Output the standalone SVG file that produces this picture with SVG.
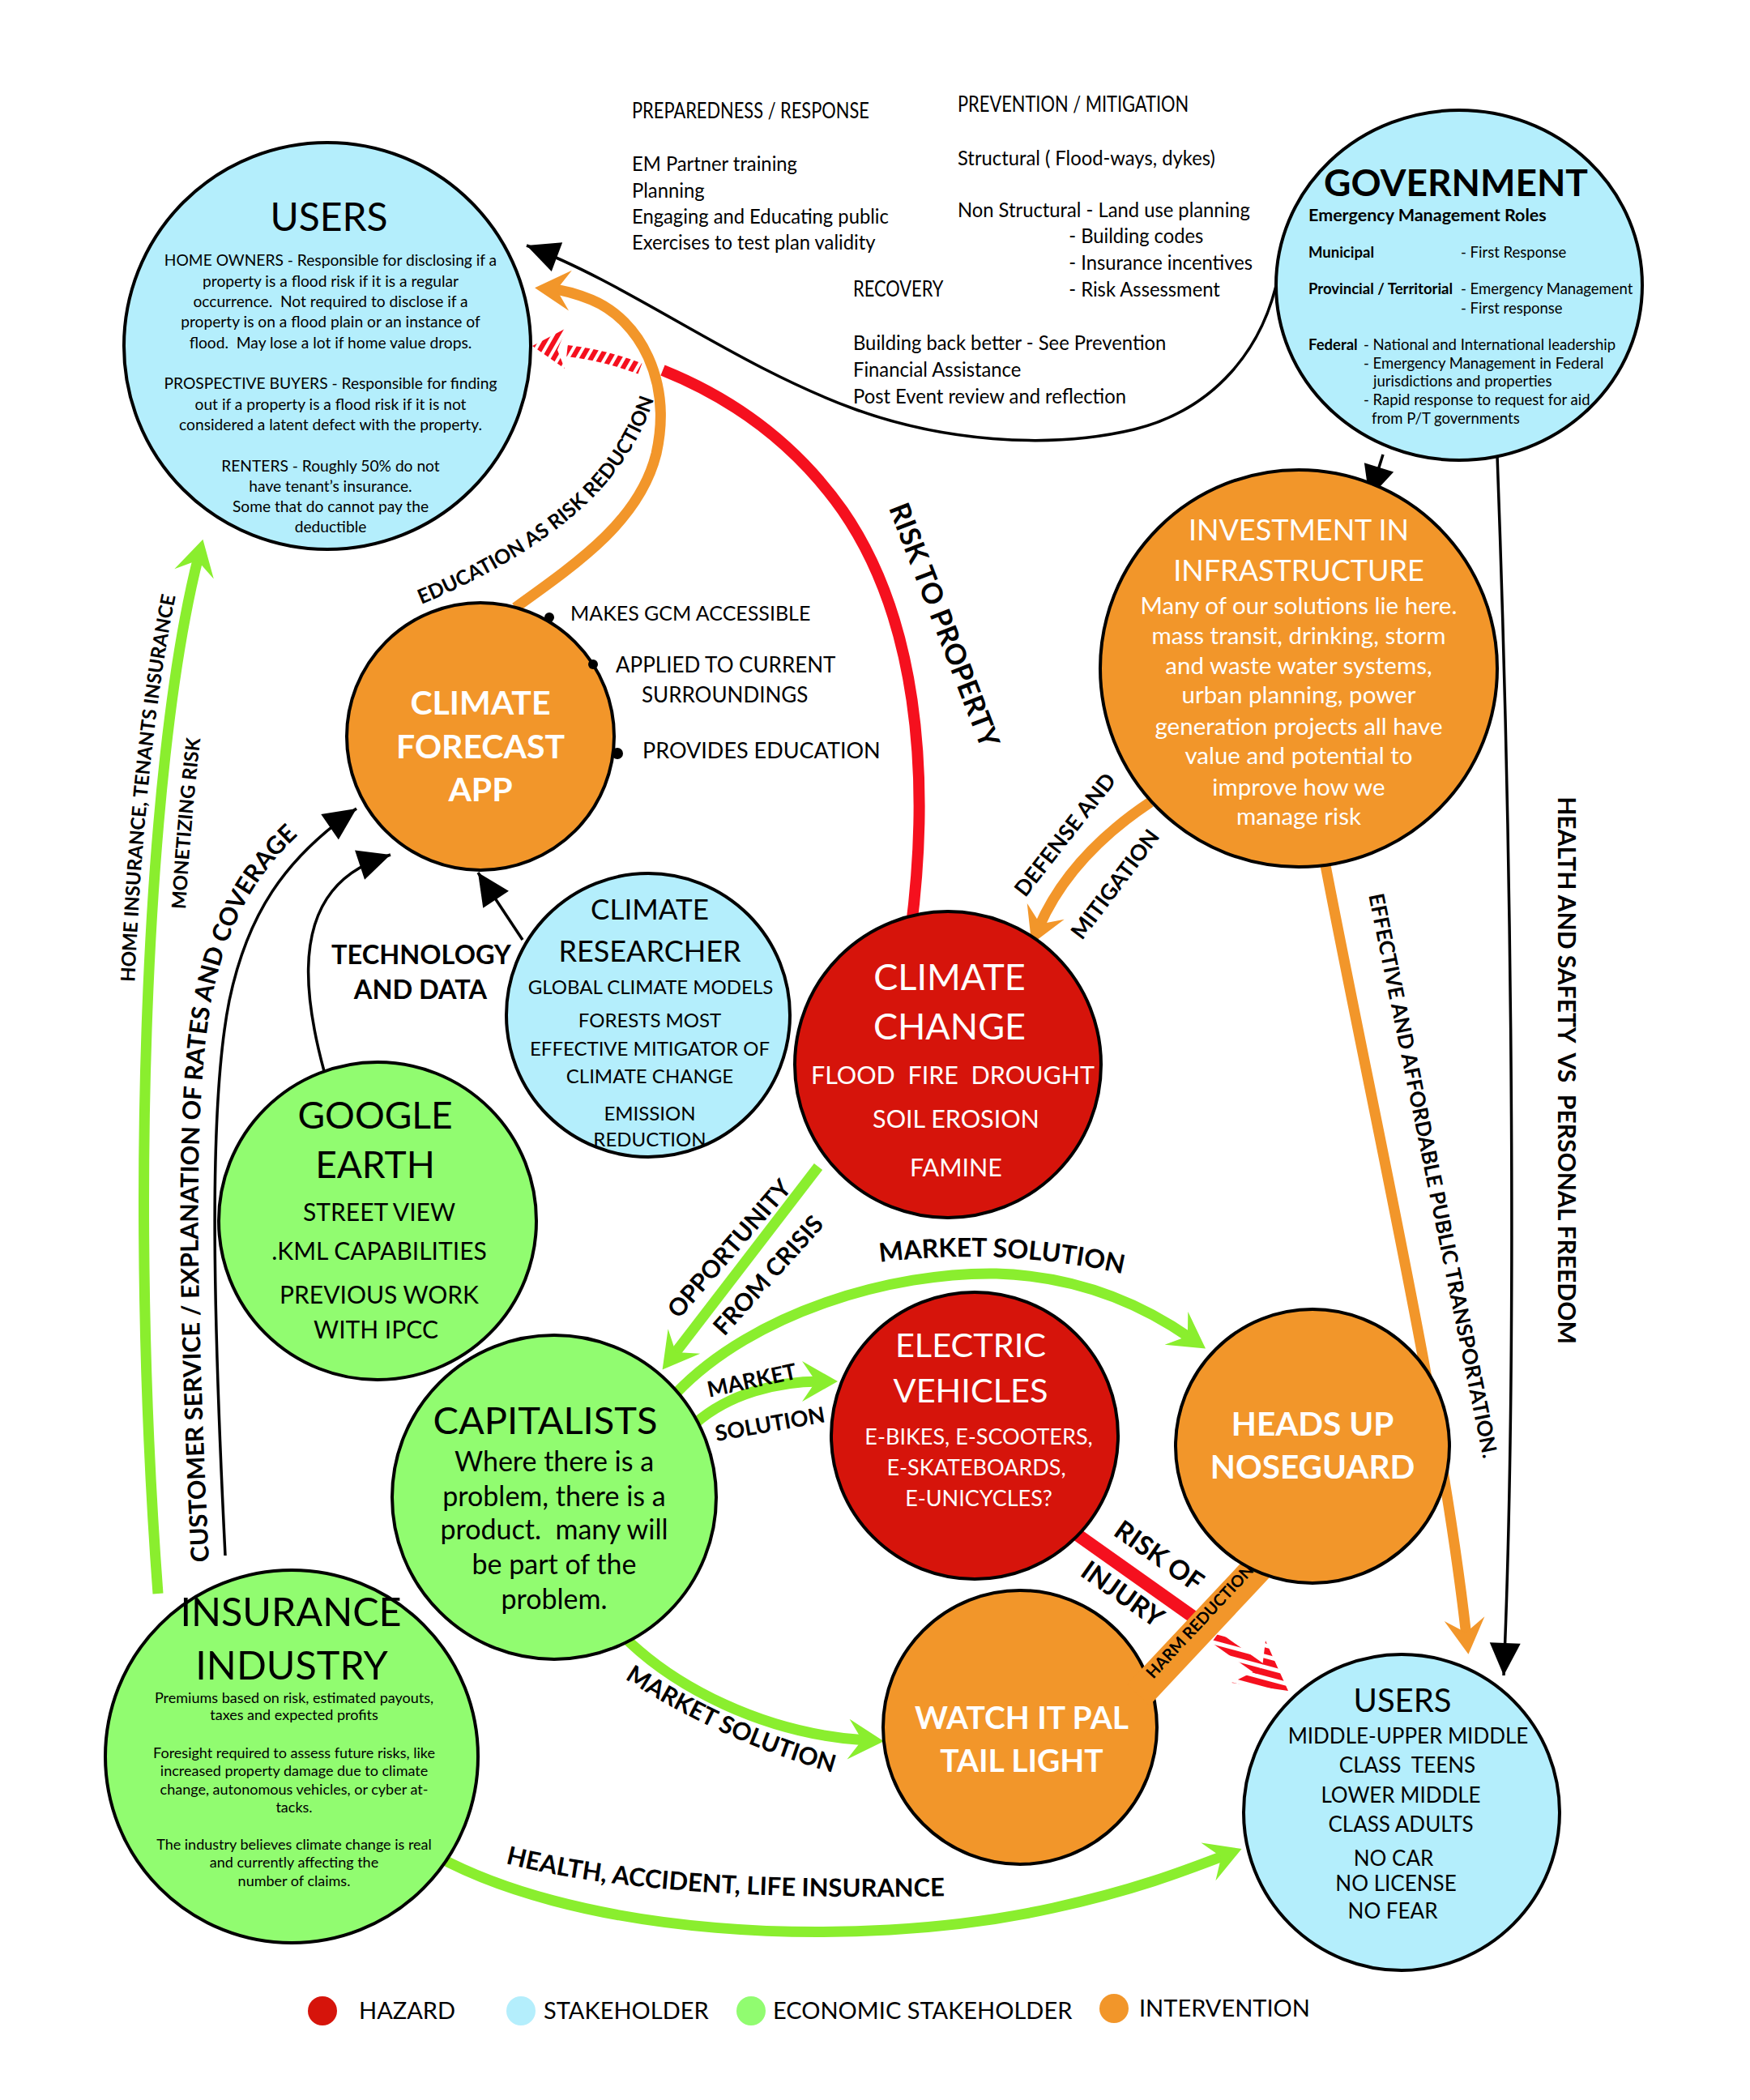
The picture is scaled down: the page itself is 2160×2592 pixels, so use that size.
<svg xmlns="http://www.w3.org/2000/svg" width="2160" height="2592" viewBox="0 0 2160 2592">
<style>
text{font-family:Lato,"Open Sans","Liberation Sans",sans-serif;fill:#000}
.b{font-weight:bold}
.w{fill:#fff}
.m{text-anchor:middle}
.nb{fill:#B4EEFC;stroke:#000;stroke-width:4}
.ng{fill:#91FC70;stroke:#000;stroke-width:4}
.no{fill:#F2962A;stroke:#000;stroke-width:4}
.nr{fill:#D6140B;stroke:#000;stroke-width:4}
.kl{fill:none;stroke:#000;stroke-width:3.5}
.gl{fill:none;stroke:#8AEE2E;stroke-width:13}
.ol{fill:none;stroke:#F2962A;stroke-width:13}
.rl{fill:none;stroke:#F5101E;stroke-width:14}
.cond{font-size:26px}
.lbl{font-weight:bold;font-size:26px}
</style>
<defs>
<marker id="ak" markerUnits="userSpaceOnUse" markerWidth="50" markerHeight="50" viewBox="-45 -25 50 50" refX="0" refY="0" orient="auto"><path d="M0,0 L-40,-19 L-40,19 Z" fill="#000"/></marker>
<marker id="ao" markerUnits="userSpaceOnUse" markerWidth="60" markerHeight="60" viewBox="-30 -30 60 60" refX="0" refY="0" orient="auto"><path d="M22,0 L-22,25 L-5,0 L-22,-25 Z" fill="#F2962A"/></marker>
<marker id="ag" markerUnits="userSpaceOnUse" markerWidth="60" markerHeight="60" viewBox="-30 -30 60 60" refX="0" refY="0" orient="auto"><path d="M22,0 L-22,25 L-5,0 L-22,-25 Z" fill="#8AEE2E"/></marker>
<pattern id="hatchA" patternUnits="userSpaceOnUse" width="10" height="10" patternTransform="rotate(30)"><rect width="6" height="10" fill="#F5101E"/></pattern>
<pattern id="hatchB" patternUnits="userSpaceOnUse" width="13" height="13" patternTransform="rotate(105)"><rect width="8" height="13" fill="#F5101E"/></pattern>
<path id="pEdu" d="M520 746 C612 708 700 655 752 592 C782 555 800 520 812 476"/>
<path id="pCust" d="M258 1928 C242 1600 237 1360 262 1230 C285 1120 332 1048 428 984"/>
<path id="pHome" d="M178 1967 C143 1500 161 950 228 687"/>
<path id="pMon" d="M236 1967 C201 1500 219 950 286 687"/>
<path id="pHealth" d="M624 2300 C760 2335 950 2345 1180 2340"/>
<path id="pMs1" d="M1086 1558 Q1245 1538 1402 1576"/>
<path id="pMs2" d="M771 2072 Q895 2152 1036 2190"/>
</defs>

<g id="connectors">
  <!-- government to users (top) -->
  <path class="kl" d="M1578 339 C1560 430 1500 505 1400 530 C1290 556 1160 543 1055 505 C905 450 780 352 650 303" marker-end="url(#ak)"/>
  <!-- government to investment -->
  <path class="kl" d="M1707 561 L1690 615" marker-end="url(#ak)"/>
  <!-- government to users (bottom right) -->
  <path class="kl" d="M1848 562 C1868 1100 1872 1700 1856 2068" marker-end="url(#ak)"/>
  <text class="lbl" transform="translate(1923 1321) rotate(90)" text-anchor="middle" xml:space="preserve" style="font-size:30px">HEALTH AND SAFETY  VS  PERSONAL FREEDOM</text>
  <!-- investment to users: public transportation -->
  <path class="ol" d="M1636 1068 C1700 1400 1780 1750 1810 2020" marker-end="url(#ao)"/>
  <text class="lbl" transform="translate(1760 1453) rotate(78.5)" text-anchor="middle" style="font-size:26px">EFFECTIVE AND AFFORDABLE PUBLIC TRANSPORTATION.</text>
  <!-- defense and mitigation -->
  <path class="ol" d="M1420 990 C1360 1030 1310 1080 1282 1145" marker-end="url(#ao)"/>
  <text class="lbl" transform="translate(1322 1036) rotate(-52)" text-anchor="middle" style="font-size:27px">DEFENSE AND</text>
  <text class="lbl" transform="translate(1384 1097) rotate(-53)" text-anchor="middle" style="font-size:27px">MITIGATION</text>
  <!-- education as risk reduction -->
  <path class="ol" d="M636 750 C720 690 790 640 810 560 C830 470 790 395 730 370 C710 362 695 358 682 357" marker-end="url(#ao)"/>
  <text class="b" style="font-size:25px"><textPath href="#pEdu">EDUCATION AS RISK REDUCTION</textPath></text>
  <!-- risk to property -->
  <path class="rl" d="M1124 1150 C1150 950 1130 760 1040 630 C980 545 900 490 818 457"/>
  <path d="M790 455 Q745 438 700 433" fill="none" stroke="url(#hatchA)" stroke-width="14"/>
  <path d="M657 427 L699 405 L688 432 L697 455 Z" fill="url(#hatchA)"/>
  <text class="lbl" transform="translate(1154 776) rotate(69)" text-anchor="middle" style="font-size:35px">RISK TO PROPERTY</text>
  <!-- customer service -->
  <path class="kl" d="M278 1920 C262 1600 258 1360 283 1235 C305 1130 350 1060 440 998" marker-end="url(#ak)"/>
  <text class="lbl" style="font-size:30.5px"><textPath href="#pCust">CUSTOMER SERVICE / EXPLANATION OF RATES AND COVERAGE</textPath></text>
  <!-- google earth to app -->
  <path class="kl" d="M400 1322 C375 1230 370 1150 410 1100 C430 1075 455 1064 482 1055" marker-end="url(#ak)"/>
  <!-- researcher to app -->
  <path class="kl" d="M645 1160 L590 1077" marker-end="url(#ak)"/>
  <text class="b m" x="520" y="1190" style="font-size:32.5px">TECHNOLOGY</text>
  <text class="b m" x="519" y="1233" style="font-size:32.5px">AND DATA</text>
  <!-- home insurance -->
  <path class="gl" d="M195 1967 C160 1500 178 950 245 687" marker-end="url(#ag)"/>
  <text class="b" style="font-size:24px"><textPath href="#pHome" startOffset="755">HOME INSURANCE, TENANTS INSURANCE</textPath></text>
  <text class="b" style="font-size:24px"><textPath href="#pMon" startOffset="845">MONETIZING RISK</textPath></text>
  <!-- health accident life -->
  <path class="gl" d="M520 2280 C700 2390 1050 2410 1300 2355 C1400 2333 1460 2310 1512 2290" marker-end="url(#ag)"/>
  <text class="lbl" style="font-size:31px"><textPath href="#pHealth">HEALTH, ACCIDENT, LIFE INSURANCE</textPath></text>
  <!-- opportunity from crisis -->
  <path class="gl" d="M1010 1440 L831 1673" marker-end="url(#ag)"/>
  <text class="lbl" transform="translate(908 1548) rotate(-49)" text-anchor="middle" style="font-size:30px">OPPORTUNITY</text>
  <text class="lbl" transform="translate(956 1581) rotate(-48)" text-anchor="middle" style="font-size:30px">FROM CRISIS</text>
  <!-- market solution to heads up -->
  <path class="gl" d="M835 1719 C930 1620 1100 1570 1230 1572 C1330 1575 1410 1610 1470 1652" marker-end="url(#ag)"/>
  <text class="lbl" style="font-size:32px"><textPath href="#pMs1">MARKET SOLUTION</textPath></text>
  <!-- market solution to EV -->
  <path class="gl" d="M858 1757 C900 1720 960 1705 1012 1705" marker-end="url(#ag)"/>
  <text class="lbl" transform="translate(930 1713) rotate(-12)" text-anchor="middle" style="font-size:27px">MARKET</text>
  <text class="lbl" transform="translate(952 1767) rotate(-10)" text-anchor="middle" style="font-size:27px">SOLUTION</text>
  <!-- market solution to watch it pal -->
  <path class="gl" d="M770 2020 C830 2080 940 2140 1069 2148" marker-end="url(#ag)"/>
  <text class="lbl" style="font-size:30px"><textPath href="#pMs2">MARKET SOLUTION</textPath></text>
  <!-- risk of injury -->
  <path class="rl" d="M1318 1886 L1500 2015" style="stroke-width:16"/>
  <path d="M1500 2021 L1555 2060" fill="none" stroke="url(#hatchB)" stroke-width="16"/>
  <path d="M1590 2087 L1562 2025 L1558 2058 L1520 2077 Z" fill="url(#hatchB)"/>
  <text class="lbl" transform="translate(1424 1930) rotate(35)" text-anchor="middle" style="font-size:33px">RISK OF</text>
  <text class="lbl" transform="translate(1379 1977) rotate(35)" text-anchor="middle" style="font-size:33px">INJURY</text>
</g>

<g id="node-users-top">
  <circle class="nb" cx="404" cy="427" r="251"/>
  <text class="m" x="406" y="285" style="font-size:48px">USERS</text>
  <g style="font-size:19.2px">
    <text class="m" x="408" y="328">HOME OWNERS - Responsible for disclosing if a</text>
    <text class="m" x="408" y="354">property is a flood risk if it is a regular</text>
    <text class="m" x="408" y="379" xml:space="preserve">occurrence.  Not required to disclose if a</text>
    <text class="m" x="408" y="404">property is on a flood plain or an instance of</text>
    <text class="m" x="408" y="430" xml:space="preserve">flood.  May lose a lot if home value drops.</text>
    <text class="m" x="408" y="480">PROSPECTIVE BUYERS - Responsible for finding</text>
    <text class="m" x="408" y="506">out if a property is a flood risk if it is not</text>
    <text class="m" x="408" y="531">considered a latent defect with the property.</text>
    <text class="m" x="408" y="582">RENTERS - Roughly 50% do not</text>
    <text class="m" x="408" y="607">have tenant’s insurance.</text>
    <text class="m" x="408" y="632">Some that do cannot pay the</text>
    <text class="m" x="408" y="657">deductible</text>
  </g>
</g>

<g id="node-government">
  <ellipse class="nb" cx="1801" cy="352" rx="226" ry="216"/>
  <text class="b m" x="1797" y="242" style="font-size:46px">GOVERNMENT</text>
  <text class="b" x="1615" y="273" style="font-size:21.5px">Emergency Management Roles</text>
  <g style="font-size:18.5px">
    <text class="b" x="1615" y="318">Municipal</text>
    <text x="1803" y="318">- First Response</text>
    <text class="b" x="1615" y="363">Provincial / Territorial</text>
    <text x="1803" y="363">- Emergency Management</text>
    <text x="1803" y="387">- First response</text>
    <text class="b" x="1615" y="432">Federal</text>
    <text x="1683" y="432">- National and International leadership</text>
    <text x="1683" y="455">- Emergency Management in Federal</text>
    <text x="1695" y="477">jurisdictions and properties</text>
    <text x="1683" y="500">- Rapid response to request for aid</text>
    <text x="1693" y="523">from P/T governments</text>
  </g>
</g>

<g id="em-notes">
  <g transform="translate(780 0) scale(0.84 1)">
    <text class="cond" x="0" y="146">PREPAREDNESS / RESPONSE</text>
  </g>
  <g transform="translate(780 0) scale(0.915 1)">
    <text class="cond" x="0" y="211">EM Partner training</text>
    <text class="cond" x="0" y="244">Planning</text>
    <text class="cond" x="0" y="276">Engaging and Educating public</text>
    <text class="cond" x="0" y="308">Exercises to test plan validity</text>
  </g>
  <g transform="translate(1182 0) scale(0.84 1)">
    <text class="cond" x="0" y="138">PREVENTION / MITIGATION</text>
  </g>
  <g transform="translate(1182 0) scale(0.915 1)">
    <text class="cond" x="0" y="204">Structural ( Flood-ways, dykes)</text>
    <text class="cond" x="0" y="268">Non Structural - Land use planning</text>
    <text class="cond" x="150" y="300">- Building codes</text>
    <text class="cond" x="150" y="333">- Insurance incentives</text>
    <text class="cond" x="150" y="366">- Risk Assessment</text>
  </g>
  <g transform="translate(1053 0) scale(0.84 1)">
    <text class="cond" x="0" y="366">RECOVERY</text>
  </g>
  <g transform="translate(1053 0) scale(0.915 1)">
    <text class="cond" x="0" y="432">Building back better - See Prevention</text>
    <text class="cond" x="0" y="465">Financial Assistance</text>
    <text class="cond" x="0" y="498">Post Event review and reflection</text>
  </g>
</g>

<g id="node-investment">
  <circle class="no" cx="1603" cy="825" r="245"/>
  <text class="m w" x="1603" y="667" style="font-size:36px">INVESTMENT IN</text>
  <text class="m w" x="1603" y="717" style="font-size:36px">INFRASTRUCTURE</text>
  <g style="font-size:29.5px">
    <text class="m w" x="1603" y="758">Many of our solutions lie here.</text>
    <text class="m w" x="1603" y="795">mass transit, drinking, storm</text>
    <text class="m w" x="1603" y="832">and waste water systems,</text>
    <text class="m w" x="1603" y="868">urban planning, power</text>
    <text class="m w" x="1603" y="907">generation projects all have</text>
    <text class="m w" x="1603" y="943">value and potential to</text>
    <text class="m w" x="1603" y="982">improve how we</text>
    <text class="m w" x="1603" y="1018">manage risk</text>
  </g>
</g>

<g id="node-forecast-app">
  <circle class="no" cx="593" cy="909" r="165"/>
  <text class="b m w" x="593" y="882" style="font-size:41px">CLIMATE</text>
  <text class="b m w" x="593" y="936" style="font-size:41px">FORECAST</text>
  <text class="b m w" x="593" y="989" style="font-size:41px">APP</text>
  <circle cx="678" cy="762" r="6"/>
  <circle cx="732" cy="820" r="6"/>
  <circle cx="762" cy="930" r="7"/>
  <text x="704" y="766" style="font-size:25px">MAKES GCM ACCESSIBLE</text>
  <text x="760" y="830" style="font-size:26px">APPLIED TO CURRENT</text>
  <text x="792" y="867" style="font-size:26px">SURROUNDINGS</text>
  <text x="793" y="936" style="font-size:27px">PROVIDES EDUCATION</text>
</g>

<g id="node-researcher">
  <circle class="nb" cx="800" cy="1253" r="175"/>
  <text class="m" x="802" y="1135" style="font-size:35px">CLIMATE</text>
  <text class="m" x="802" y="1187" style="font-size:36px">RESEARCHER</text>
  <g style="font-size:24px">
    <text class="m" x="803" y="1227">GLOBAL CLIMATE MODELS</text>
    <text class="m" x="802" y="1268">FORESTS MOST</text>
    <text class="m" x="802" y="1303">EFFECTIVE MITIGATOR OF</text>
    <text class="m" x="802" y="1337">CLIMATE CHANGE</text>
    <text class="m" x="802" y="1383">EMISSION</text>
    <text class="m" x="802" y="1415">REDUCTION</text>
  </g>
</g>

<g id="node-climate-change">
  <circle class="nr" cx="1170" cy="1314" r="189"/>
  <text class="m w" x="1172" y="1222" style="font-size:45px">CLIMATE</text>
  <text class="m w" x="1172" y="1283" style="font-size:45px">CHANGE</text>
  <text class="m w" x="1176" y="1338" style="font-size:30.5px" xml:space="preserve">FLOOD  FIRE  DROUGHT</text>
  <text class="m w" x="1180" y="1392" style="font-size:30.5px">SOIL EROSION</text>
  <text class="m w" x="1180" y="1452" style="font-size:30.5px">FAMINE</text>
</g>

<g id="node-google-earth">
  <circle class="ng" cx="466" cy="1507" r="196"/>
  <text class="m" x="463" y="1393" style="font-size:46px">GOOGLE</text>
  <text class="m" x="463" y="1454" style="font-size:46px">EARTH</text>
  <g style="font-size:30px">
    <text class="m" x="468" y="1507">STREET VIEW</text>
    <text class="m" x="468" y="1555">.KML CAPABILITIES</text>
    <text class="m" x="468" y="1609">PREVIOUS WORK</text>
    <text class="m" x="464" y="1652">WITH IPCC</text>
  </g>
</g>

<g id="node-capitalists">
  <circle class="ng" cx="684" cy="1848" r="200"/>
  <text class="m" x="673" y="1770" style="font-size:47px">CAPITALISTS</text>
  <g style="font-size:34px">
    <text class="m" x="684" y="1816">Where there is a</text>
    <text class="m" x="684" y="1859">problem, there is a</text>
    <text class="m" x="684" y="1900" xml:space="preserve">product.  many will</text>
    <text class="m" x="684" y="1943">be part of the</text>
    <text class="m" x="684" y="1986">problem.</text>
  </g>
</g>

<g id="node-electric-vehicles">
  <circle class="nr" cx="1203" cy="1772" r="177"/>
  <text class="m w" x="1198" y="1675" style="font-size:41.5px">ELECTRIC</text>
  <text class="m w" x="1198" y="1731" style="font-size:41.5px">VEHICLES</text>
  <g style="font-size:27px">
    <text class="m w" x="1208" y="1783">E-BIKES, E-SCOOTERS,</text>
    <text class="m w" x="1205" y="1821">E-SKATEBOARDS,</text>
    <text class="m w" x="1208" y="1859">E-UNICYCLES?</text>
  </g>
</g>

<g id="node-watch-it-pal">
  <circle class="no" cx="1259" cy="2132" r="169"/>
  <text class="b m w" x="1261" y="2134" style="font-size:39px">WATCH IT PAL</text>
  <text class="b m w" x="1261" y="2187" style="font-size:39px">TAIL LIGHT</text>
</g>

<g id="connector-harm-reduction">
  <path d="M1585 1900 L1405 2092" fill="none" stroke="#F2962A" stroke-width="38"/>
  <text class="b" transform="translate(1486 2006) rotate(-47)" text-anchor="middle" style="font-size:20px">HARM REDUCTION</text>
</g>

<g id="node-noseguard">
  <circle class="no" cx="1620" cy="1785" r="169"/>
  <text class="b m w" x="1620" y="1772" style="font-size:40.5px">HEADS UP</text>
  <text class="b m w" x="1620" y="1825" style="font-size:40.5px">NOSEGUARD</text>
</g>

<g id="node-insurance">
  <circle class="ng" cx="360" cy="2168" r="230"/>
  <text class="m" x="359" y="2007" style="font-size:48.5px">INSURANCE</text>
  <text class="m" x="360" y="2073" style="font-size:48.5px">INDUSTRY</text>
  <g style="font-size:18px">
    <text class="m" x="363" y="2102">Premiums based on risk, estimated payouts,</text>
    <text class="m" x="363" y="2123">taxes and expected profits</text>
    <text class="m" x="363" y="2170">Foresight required to assess future risks, like</text>
    <text class="m" x="363" y="2192">increased property damage due to climate</text>
    <text class="m" x="363" y="2215">change, autonomous vehicles, or cyber at-</text>
    <text class="m" x="363" y="2237">tacks.</text>
    <text class="m" x="363" y="2283">The industry believes climate change is real</text>
    <text class="m" x="363" y="2305">and currently affecting the</text>
    <text class="m" x="363" y="2328">number of claims.</text>
  </g>
</g>

<g id="node-users-bottom">
  <circle class="nb" cx="1730" cy="2237" r="195"/>
  <text class="m" x="1731" y="2113" style="font-size:40px">USERS</text>
  <g style="font-size:26px">
    <text class="m" x="1738" y="2152">MIDDLE-UPPER MIDDLE</text>
    <text class="m" x="1737" y="2188" xml:space="preserve">CLASS  TEENS</text>
    <text class="m" x="1729" y="2225">LOWER MIDDLE</text>
    <text class="m" x="1729" y="2261">CLASS ADULTS</text>
    <text class="m" x="1720" y="2303">NO CAR</text>
    <text class="m" x="1723" y="2334">NO LICENSE</text>
    <text class="m" x="1719" y="2368">NO FEAR</text>
  </g>
</g>

<g id="legend">
  <circle cx="398" cy="2482" r="18" fill="#D6140B"/>
  <text x="443" y="2492" style="font-size:29px">HAZARD</text>
  <circle cx="643" cy="2482" r="18" fill="#B4EEFC"/>
  <text x="671" y="2492" style="font-size:29px">STAKEHOLDER</text>
  <circle cx="927" cy="2482" r="18" fill="#91FC70"/>
  <text x="954" y="2492" style="font-size:29px">ECONOMIC STAKEHOLDER</text>
  <circle cx="1375" cy="2479" r="18" fill="#F2962A"/>
  <text x="1406" y="2489" style="font-size:29px">INTERVENTION</text>
</g>
</svg>
